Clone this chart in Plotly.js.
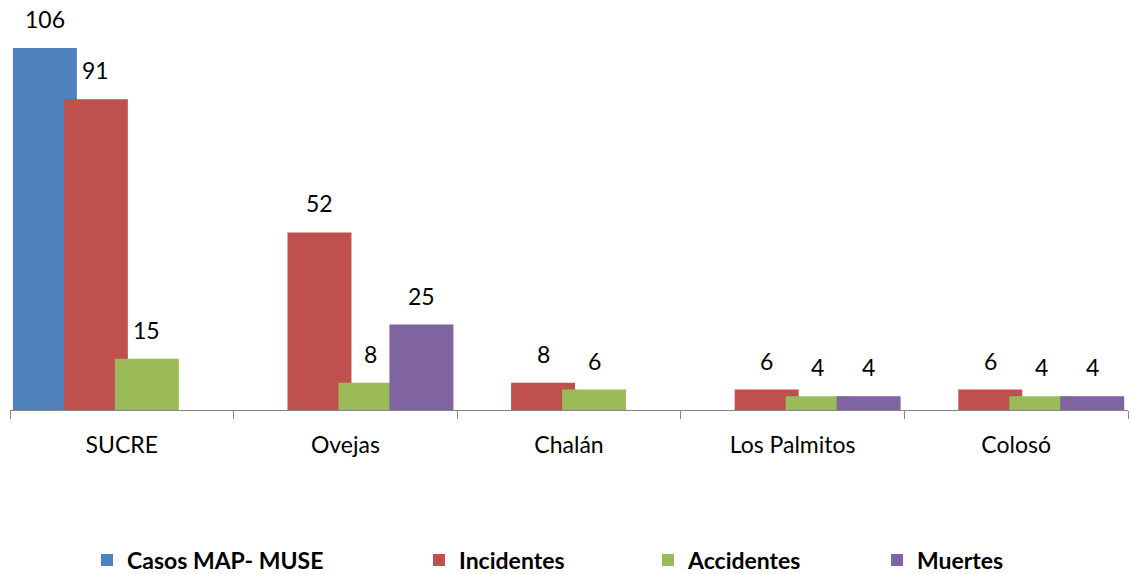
<!DOCTYPE html>
<html>
<head>
<meta charset="utf-8">
<script src="https://cdn.plot.ly/plotly-3.0.1.min.js"></script>
<style>html,body{margin:0;padding:0;background:#fff;}#chart{width:1131px;height:574px;}</style>
</head>
<body>
<div id="chart"></div>
<script>
const categories = ["SUCRE", "Ovejas", "Chalán", "Los Palmitos", "Colosó"];
const seriesNames = ["Casos MAP- MUSE", "Incidentes", "Accidentes", "Muertes"];
const casos = [106, null, null, null, null];
const incidentes = [91, 52, 8, 6, 6];
const accidentes = [15, 8, 6, 4, 4];
const muertes = [null, 25, null, 4, 4];
const colors = ["#4F81BD", "#C0504D", "#9BBB59", "#8064A2"];

const allSeries = [casos, incidentes, accidentes, muertes];
const barWidth = 0.286;
const offsets = [-0.487, -0.259, -0.031, 0.197];

const traces = allSeries.map((vals, i) => ({
  type: 'bar',
  name: seriesNames[i],
  x: categories,
  y: vals,
  width: barWidth,
  offset: offsets[i],
  marker: {color: colors[i]},
  legend: i === 0 ? 'legend' : 'legend2',
  hoverinfo: 'skip'
}));

const annotations = [];
allSeries.forEach((vals, i) => {
  vals.forEach((v, j) => {
    if (v === null) return;
    annotations.push({
      x: j + offsets[i] + barWidth / 2,
      y: v,
      xref: 'x', yref: 'y',
      text: String(v),
      showarrow: false,
      xanchor: 'center', yanchor: 'bottom',
      yshift: 13,
      font: {family: 'Lato, sans-serif', size: 23, color: '#000'}
    });
  });
});

const legendFont = {family: 'Lato, sans-serif', size: 23, color: '#000', weight: 'bold'};

const layout = {
  width: 1131, height: 574,
  margin: {l: 10, r: 3, t: 48, b: 164, autoexpand: false},
  paper_bgcolor: '#fff', plot_bgcolor: '#fff',
  barmode: 'overlay',
  showlegend: true,
  xaxis: {
    type: 'category',
    showline: true, linecolor: '#868686', linewidth: 1,
    ticks: 'outside', tickson: 'boundaries', ticklen: 8, tickcolor: '#868686',
    tickfont: {family: 'Lato, sans-serif', size: 23, color: '#000'},
    ticklabelstandoff: 14,
    showgrid: false, zeroline: false,
    range: [-0.5, 4.5],
    fixedrange: true
  },
  yaxis: {
    range: [0, 106],
    visible: false,
    showgrid: false, zeroline: false,
    fixedrange: true
  },
  legend: {
    orientation: 'h',
    x: 87 / 1131, xref: 'container', xanchor: 'left',
    y: 1 - 560 / 574, yref: 'container', yanchor: 'middle',
    font: legendFont,
    bgcolor: 'rgba(0,0,0,0)'
  },
  legend2: {
    orientation: 'h',
    x: 419 / 1131, xref: 'container', xanchor: 'left',
    y: 1 - 560 / 574, yref: 'container', yanchor: 'middle',
    entrywidth: 184, entrywidthmode: 'pixels',
    font: legendFont,
    bgcolor: 'rgba(0,0,0,0)'
  },
  annotations: annotations
};

Plotly.newPlot('chart', traces, layout, {displayModeBar: false, staticPlot: true});
</script>
</body>
</html>
